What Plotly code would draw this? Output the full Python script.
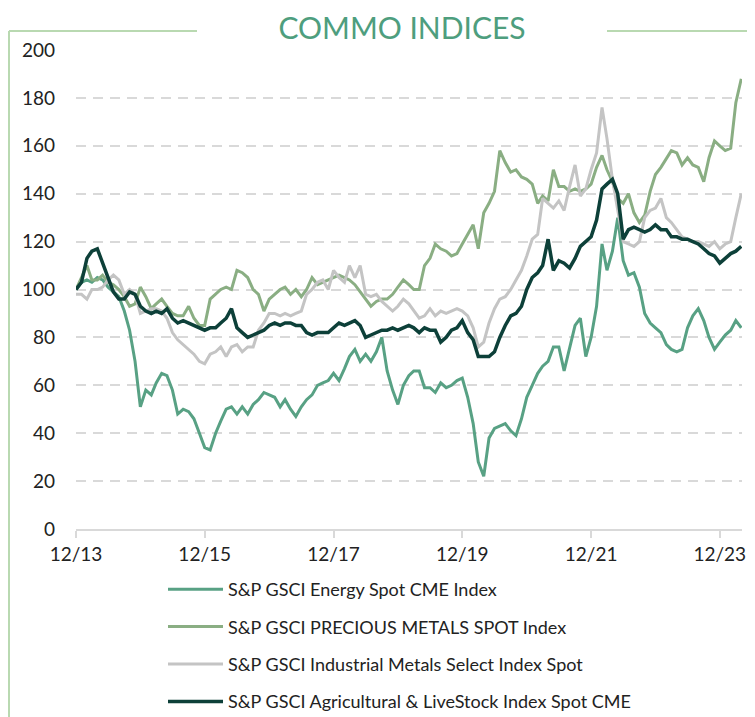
import pandas as pd
import plotly.graph_objects as go

# ---------------- data (monthly, Dec 2013 .. Apr 2024), rebased to 100 ----------------
dates = pd.date_range("2013-12-01", "2024-04-01", freq="MS")

energy = [
    100, 103, 104, 103, 105, 104, 101, 99, 97, 91, 83, 70,
    51, 58, 56, 61, 65, 64, 58, 48, 50, 49, 46, 40,
    34, 33, 40, 45, 50, 51, 48, 51, 48, 52, 54, 57,
    56, 55, 51, 54, 50, 47, 51, 54, 56, 60, 61, 62,
    65, 62, 67, 72, 75, 70, 73, 70, 74, 80, 66, 58,
    52, 60, 64, 66, 66, 59, 59, 57, 61, 59, 60, 62,
    63, 55, 44, 28, 22, 38, 42, 43, 44, 41, 39, 46,
    55, 60, 65, 68, 70, 76, 76, 66, 76, 85, 88, 72,
    80, 93, 119, 108, 116, 130, 112, 106, 107, 101, 90, 86,
    84, 82, 77, 75, 74, 75, 84, 89, 92, 87, 80, 75,
    78, 81, 83, 87, 84,
]

precious = [
    100, 105, 110, 104, 104, 106, 103, 102, 100, 97, 93, 94,
    101, 97, 92, 94, 96, 93, 90, 89, 89, 93, 88, 85,
    85, 96, 98, 100, 101, 100, 108, 107, 105, 100, 98, 91,
    96, 98, 100, 101, 98, 100, 97, 100, 105, 102, 103, 104,
    105, 106, 105, 104, 102, 99, 96, 93, 95, 96, 96, 98,
    101, 104, 102, 100, 100, 110, 113, 119, 117, 116, 114, 115,
    119, 123, 127, 117, 132, 136, 141, 158, 153, 149, 150, 147,
    146, 144, 136, 139, 137, 150, 143, 143, 141, 142, 141, 142,
    144, 151, 156, 150, 145, 138, 136, 140, 132, 128, 131, 141,
    148, 151, 155, 158, 157, 152, 155, 152, 151, 145, 155, 162,
    160, 158, 159, 178, 188,
]

industrial = [
    98, 98, 96, 100, 100, 101, 104, 106, 104, 98, 100, 98,
    90, 91, 92, 92, 91, 88, 82, 79, 77, 75, 73, 70,
    69, 73, 74, 76, 72, 76, 77, 74, 76, 76, 83, 86,
    90, 90, 89, 90, 89, 90, 91, 98, 100, 103, 104, 100,
    108, 105, 103, 110, 105, 110, 98, 97, 98, 95, 93, 91,
    93, 96, 94, 91, 88, 89, 92, 89, 91, 90, 91, 92,
    91, 89, 84, 76, 78, 86, 92, 96, 97, 100, 104, 108,
    114, 121, 123, 138, 136, 134, 137, 133, 143, 152, 139, 142,
    150, 157, 176, 163, 146, 134, 120, 119, 118, 120, 130, 133,
    134, 138, 130, 128, 125, 122, 121, 120, 120, 119, 118, 120,
    117, 119, 120, 130, 140,
]

agri = [
    100, 103, 113, 116, 117, 111, 105, 99, 96, 96, 99, 98,
    93, 91, 90, 91, 90, 92, 88, 86, 87, 86, 85, 84,
    83, 84, 84, 86, 88, 92, 84, 82, 80, 81, 82, 83,
    85, 86, 85, 86, 86, 85, 85, 82, 81, 82, 82, 82,
    84, 86, 85, 86, 87, 85, 80, 81, 82, 83, 83, 84,
    83, 84, 85, 84, 82, 84, 83, 83, 78, 80, 83, 84,
    87, 82, 79, 72, 72, 72, 74, 80, 85, 89, 90, 93,
    100, 105, 107, 110, 121, 108, 112, 111, 109, 113, 118, 120,
    122, 129, 142, 144, 146, 140, 121, 125, 126, 125, 124, 125,
    127, 125, 125, 122, 122, 121, 121, 120, 119, 117, 115, 114,
    111, 113, 115, 116, 118,
]

series_names = [
    "S&P GSCI Energy Spot CME Index",
    "S&P GSCI PRECIOUS METALS SPOT Index",
    "S&P GSCI Industrial Metals Select Index Spot",
    "S&P GSCI Agricultural & LiveStock Index Spot CME",
]
series_values = [energy, precious, industrial, agri]
series_colors = ["#58a184", "#8aae83", "#c4c4c4", "#0d4039"]
series_widths = [3, 3, 3, 3.5]

tick_dates = ["2013-12-01", "2015-12-01", "2017-12-01", "2019-12-01", "2021-12-01", "2023-12-01"]
tick_labels = ["12/13", "12/15", "12/17", "12/19", "12/21", "12/23"]
y_ticks = [0, 20, 40, 60, 80, 100, 120, 140, 160, 180, 200]

# ---------------- figure geometry ----------------
OFF = 8                      # page body margin of the html page
W, H = 755 - OFF, 717 - OFF  # figure size so that it fits the window exactly
# target plot-area edges in page pixels
P_LEFT, P_RIGHT, P_TOP, P_BOTTOM = 76, 742, 50, 529
L = P_LEFT - OFF
R = W - (P_RIGHT - OFF)
T = P_TOP - OFF
B = H - (P_BOTTOM - OFF)
PW, PH = W - L - R, H - T - B

def px2x(px):   # page pixel -> paper x
    return (px - OFF - L) / PW

def py2y(py):   # page pixel -> paper y
    return (H - B - (py - OFF)) / PH

def cx(px):     # page pixel -> container x
    return (px - OFF) / W

def cy(py):     # page pixel -> container y
    return 1 - (py - OFF) / H

fig = go.Figure()
for i, (name, vals, col, lw) in enumerate(zip(series_names, series_values, series_colors, series_widths)):
    fig.add_trace(go.Scatter(
        x=dates, y=vals, name=name, mode="lines",
        line=dict(color=col, width=lw),
        legendgroup=f"g{i}",
    ))

FONT = "Lato, Calibri, 'Open Sans', sans-serif"
frame_col = "#b9d9b1"

fig.update_layout(
    width=W, height=H,
    margin=dict(l=L, r=R, t=T, b=B, pad=0, autoexpand=False),
    paper_bgcolor="white", plot_bgcolor="white",
    font=dict(family=FONT, color="#222222"),
    title=dict(
        text="COMMO INDICES",
        x=cx(402), xanchor="center", xref="container",
        y=cy(28), yanchor="middle", yref="container",
        font=dict(family=FONT, size=30, color="#4e9e7e"),
    ),
    showlegend=True,
    legend=dict(
        xref="container", yref="container",
        x=cx(163), xanchor="left",
        y=cy(571), yanchor="top",
        orientation="v",
        font=dict(family=FONT, size=18, color="#222222"),
        bgcolor="rgba(0,0,0,0)",
        tracegroupgap=11,
        itemwidth=55,
    ),
    xaxis=dict(
        type="date", automargin=False,
        range=["2013-12-01", "2024-04-05"],
        tickvals=tick_dates, ticktext=tick_labels,
        showgrid=False, zeroline=False,
        showline=True, linecolor="#d9d9d9", linewidth=2,
        ticks="outside", ticklen=7, tickwidth=2, tickcolor="#d9d9d9",
        tickfont=dict(family=FONT, size=19, color="#222222"),
    ),
    yaxis=dict(
        range=[0, 200], automargin=False,
        tickvals=y_ticks,
        showgrid=True, gridcolor="#d9d9d9", gridwidth=2, griddash="10px,7px",
        zeroline=False, showline=False,
        ticks="", ticklabelstandoff=20,
        tickfont=dict(family=FONT, size=19, color="#222222"),
    ),
    shapes=[
        dict(type="line", xref="paper", yref="paper",
             x0=px2x(9), x1=px2x(9), y0=py2y(31), y1=py2y(720),
             line=dict(color=frame_col, width=2)),
        dict(type="line", xref="paper", yref="paper",
             x0=px2x(9), x1=px2x(197), y0=py2y(31), y1=py2y(31),
             line=dict(color=frame_col, width=2)),
        dict(type="line", xref="paper", yref="paper",
             x0=px2x(607), x1=px2x(758), y0=py2y(31), y1=py2y(31),
             line=dict(color=frame_col, width=2)),
    ],
)

fig.write_html("out.html")
